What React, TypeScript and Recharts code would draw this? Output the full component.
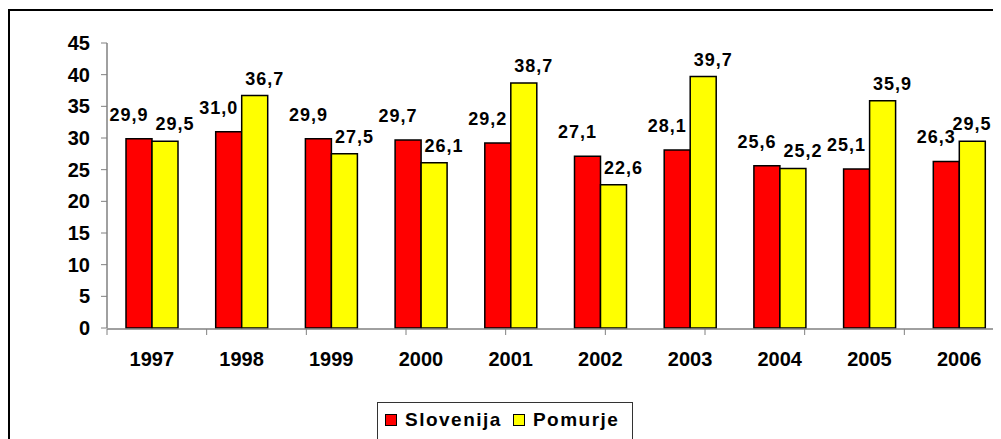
import React from "react";
import { BarChart, Bar, XAxis, YAxis, Legend, LabelList } from "recharts";

const years = ["1997", "1998", "1999", "2000", "2001", "2002", "2003", "2004", "2005", "2006"];
const slovenija = [29.9, 31.0, 29.9, 29.7, 29.2, 27.1, 28.1, 25.6, 25.1, 26.3];
const pomurje = [29.5, 36.7, 27.5, 26.1, 38.7, 22.6, 39.7, 25.2, 35.9, 29.5];
const yTicks = [0, 5, 10, 15, 20, 25, 30, 35, 40, 45];

const data = years.map((year, i) => ({ year, slovenija: slovenija[i], pomurje: pomurje[i] }));
// category boundaries for the little tick marks between the groups
const edgeTicks = [...years.map((_, i) => i), years.length];

const FONT = "Arial, 'Liberation Sans', sans-serif";
const RED = "#ff0000";
const YELLOW = "#ffff00";
const VISIBLE_W = 993;

const fmt = (v: number) => v.toFixed(1).replace(".", ",");

const valueLabel = (dx: number, gap: number) => (props: any) => {
  const { x, y, width, value } = props;
  // keep the label inside the visible frame
  const cx = Math.min(Number(x) + Number(width) / 2 + dx, VISIBLE_W - 29);
  return (
    <text
      x={cx}
      y={Number(y) - gap}
      textAnchor="middle"
      fill="#000"
      fontSize={18}
      fontWeight={700}
      fontFamily={FONT}
      letterSpacing={1}
    >
      {fmt(Number(value))}
    </text>
  );
};

function LegendBox() {
  const item = (color: string, label: string, ml: number) => (
    <span style={{ display: "inline-flex", alignItems: "center", marginLeft: ml }}>
      <span style={{ width: 10, height: 10, background: color, border: "1px solid #000", display: "inline-block" }} />
      <span style={{ marginLeft: 8, fontSize: 19, fontWeight: 700, letterSpacing: 1.5, fontFamily: FONT, color: "#000" }}>
        {label}
      </span>
    </span>
  );
  return (
    <div
      style={{
        boxSizing: "border-box",
        width: 256,
        height: 42,
        border: "1px solid #333",
        background: "#fff",
        paddingTop: 6,
        whiteSpace: "nowrap",
      }}
    >
      {item(RED, "Slovenija", 7)}
      {item(YELLOW, "Pomurje", 11)}
    </div>
  );
}

export default function App() {
  return (
    <div style={{ position: "relative", width: VISIBLE_W, height: 431, overflow: "hidden", background: "#fff" }}>
      <div
        style={{
          position: "absolute",
          left: 0,
          top: 1,
          width: 1100,
          height: 500,
          border: "2px solid #000",
          boxSizing: "border-box",
        }}
      />
      <div style={{ position: "absolute", left: 0, top: 0 }}>
        <BarChart
          width={1010}
          height={431}
          data={data}
          margin={{ top: 35, right: 14, bottom: 109, left: 0 }}
          barGap={0}
          barSize={26}
        >
          <XAxis
            xAxisId="edge"
            type="number"
            domain={[0, years.length]}
            ticks={edgeTicks}
            allowDataOverflow
            height={1}
            tickSize={6}
            tickFormatter={() => ""}
            axisLine={{ stroke: "#808080", strokeWidth: 1.5 }}
            tickLine={{ stroke: "#808080" }}
          />
          <XAxis
            xAxisId="cat"
            dataKey="year"
            height={1}
            axisLine={false}
            tickLine={false}
            tickSize={6}
            tickMargin={18}
            interval={0}
            tick={{ fill: "#000", fontSize: 20, fontWeight: 700, fontFamily: FONT }}
          />
          <YAxis
            domain={[0, 45]}
            ticks={yTicks}
            width={99}
            tickSize={6}
            tickMargin={11}
            axisLine={{ stroke: "#808080", strokeWidth: 1.5 }}
            tickLine={{ stroke: "#808080" }}
            tick={{ fill: "#000", fontSize: 20, fontWeight: 700, fontFamily: FONT }}
          />
          <Legend
            layout="horizontal"
            verticalAlign="middle"
            align="center"
            wrapperStyle={{ top: 394, left: 369, width: 256 }}
            content={() => <LegendBox />}
          />
          <Bar xAxisId="cat" dataKey="slovenija" name="Slovenija" fill={RED} stroke="#000" strokeWidth={1.5} isAnimationActive={false}>
            <LabelList dataKey="slovenija" content={valueLabel(-10, 18)} />
          </Bar>
          <Bar xAxisId="cat" dataKey="pomurje" name="Pomurje" fill={YELLOW} stroke="#000" strokeWidth={1.5} isAnimationActive={false}>
            <LabelList dataKey="pomurje" content={valueLabel(10, 11)} />
          </Bar>
        </BarChart>
      </div>
    </div>
  );
}
